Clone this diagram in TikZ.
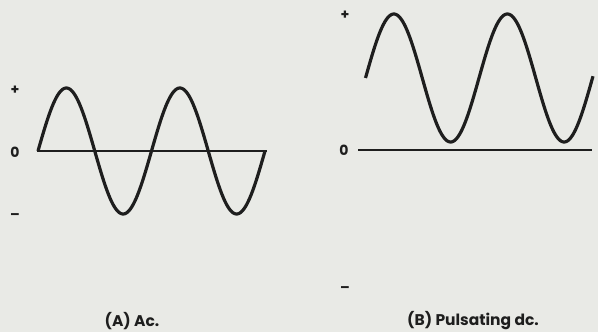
\documentclass[tikz,border=0pt]{standalone}
\usepackage{fontspec}
\setmainfont{Poppins}
\definecolor{bg}{RGB}{233,234,230}
\definecolor{ink}{RGB}{30,30,30}
\tikzset{
  wave/.style={draw=ink, line width=3.2pt, line join=round},
  axisline/.style={draw=ink, line width=1.8pt},
  sign/.style={text=ink, font=\bfseries\fontsize{14}{16}\selectfont, inner sep=0pt},
  caption/.style={text=ink, font=\bfseries\fontsize{15.5}{18}\selectfont, inner sep=0pt}
}
\begin{document}
\begin{tikzpicture}[x=1pt,y=-1pt]
\fill[bg] (0,0) rectangle (598,332);
\useasboundingbox (0,0) rectangle (598,332);
% Panel A
\coordinate (a0) at (37,151);
\coordinate (a1) at (267,151);
\draw[axisline] (a0) -- (a1);
\draw[wave] plot[domain=38:265, samples=200, smooth] (\x, {151 - 63*sin(3.1718*(\x-38))});
\node[sign] (aplus) at (15,90) {+};
\node[sign] (azero) at (15,152) {0};
\node[sign] (aminus) at (15,217) {–};
\node[caption] (capA) at (132,321) {(A) Ac.};
% Panel B
\coordinate (b0) at (358,150);
\coordinate (b1) at (592,150);
\draw[axisline] (b0) -- (b1);
\draw[wave] plot[domain=365.5:593, samples=200, smooth] (\x, {78 - 64*sin(3.1718*(\x-365.5))});
\node[sign] (bplus) at (345,15) {+};
\node[sign] (bzero) at (344,150) {0};
\node[sign] (bminus) at (345,290) {–};
\node[caption] (capB) at (473,321) {(B) Pulsating dc.};
\end{tikzpicture}
\end{document}
